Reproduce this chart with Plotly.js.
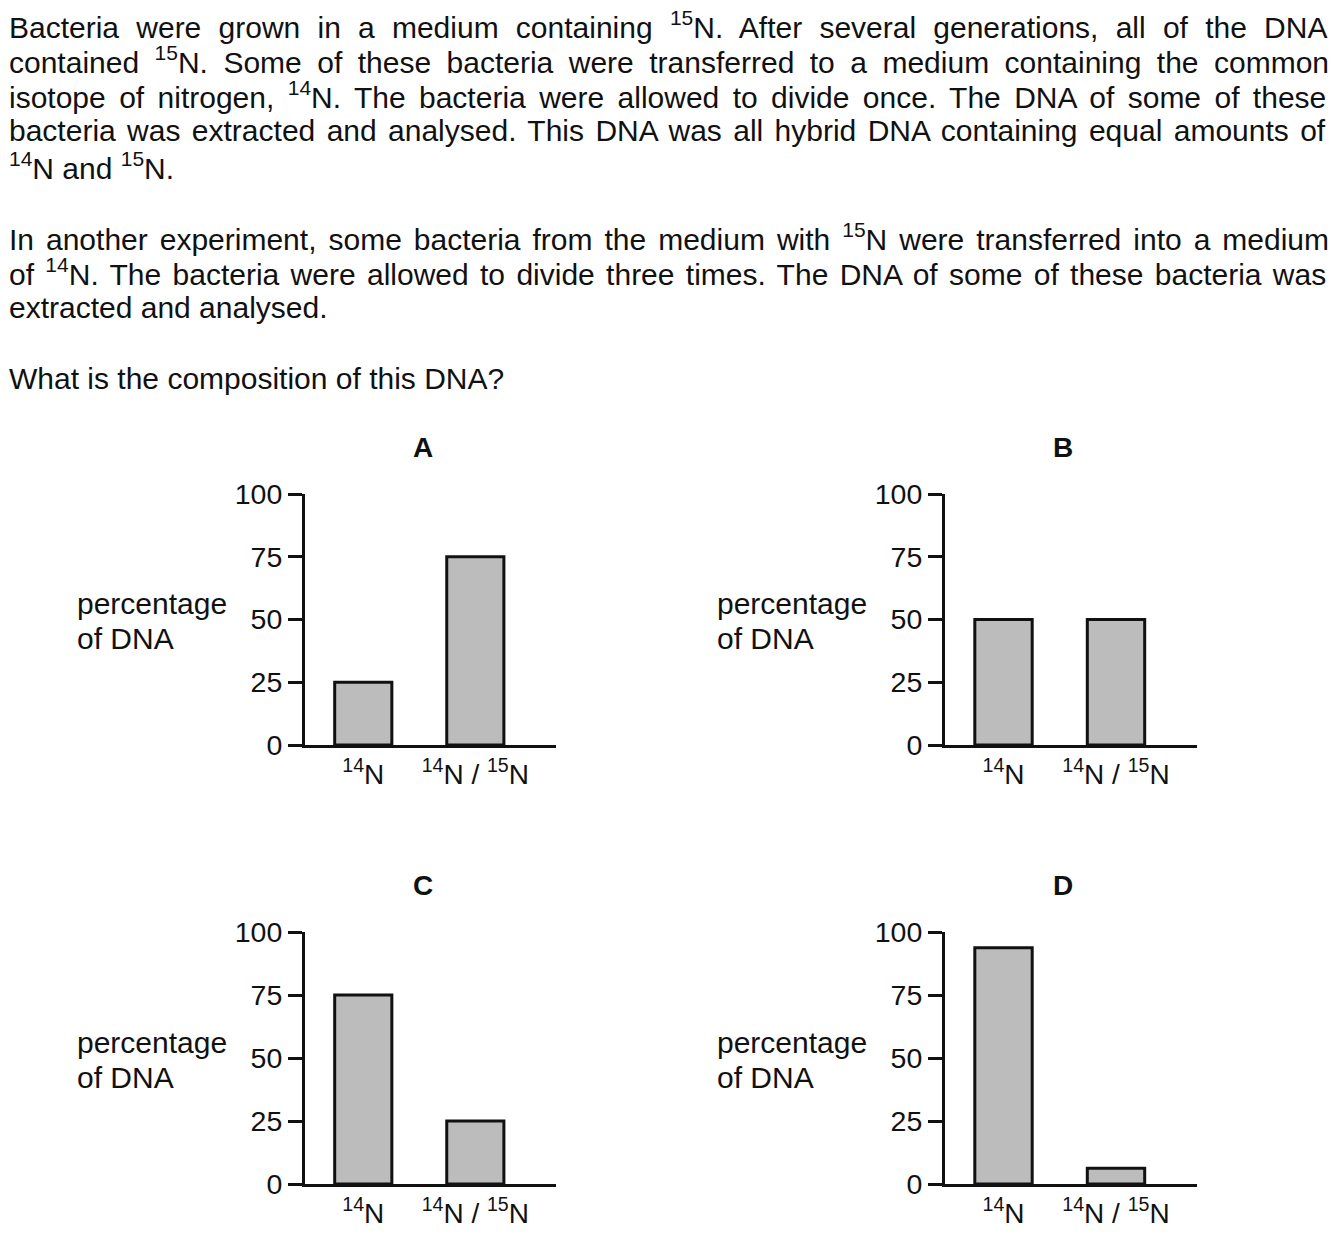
<!DOCTYPE html>
<html>
<head>
<meta charset="utf-8">
<script src="https://cdn.plot.ly/plotly-3.0.1.min.js"></script>
<style>
html,body{margin:0;padding:0;background:#fff;}
#chart{width:1336px;height:1237px;}
</style>
</head>
<body>
<div id="chart"></div>
<script>
// ---------- data ----------
const categories = ['<sup>14</sup>N', '<sup>14</sup>N / <sup>15</sup>N'];
const valuesA = [25, 75];
const valuesB = [50, 50];
const valuesC = [75, 25];
const valuesD = [93.75, 6.25];
const yTickVals = [0, 25, 50, 75, 100];
const panelLabels = ['A', 'B', 'C', 'D'];
const yAxisLabelLines = ['percentage', 'of DNA'];

const paragraphLines = [
  {text: 'Bacteria were grown in a medium containing <sup>15</sup>N. After several generations, all of the DNA', justify: true},
  {text: 'contained <sup>15</sup>N. Some of these bacteria were transferred to a medium containing the common', justify: true},
  {text: 'isotope of nitrogen, <sup>14</sup>N. The bacteria were allowed to divide once. The DNA of some of these', justify: true},
  {text: 'bacteria was extracted and analysed. This DNA was all hybrid DNA containing equal amounts of', justify: true},
  {text: '<sup>14</sup>N and <sup>15</sup>N.', justify: false},
  {text: 'In another experiment, some bacteria from the medium with <sup>15</sup>N were transferred into a medium', justify: true},
  {text: 'of <sup>14</sup>N. The bacteria were allowed to divide three times. The DNA of some of these bacteria was', justify: true},
  {text: 'extracted and analysed.', justify: false},
  {text: 'What is the composition of this DNA?', justify: false}
];

// ---------- layout helpers ----------
const W = 1336, H = 1237;
const FONT = 'Liberation Sans, Arial, Helvetica, sans-serif';
const INK = '#111111';
const BODY_SIZE = 30;
const px = x => x / W;
const py = y => 1 - y / H;

const lineY = [25, 60, 95, 131, 166, 237, 272, 307, 378];
const textLeft = 7, textRight = 1327;

// measure text width (with <sup> segments at 70%)
const cv = document.createElement('canvas').getContext('2d');
function segs(str) {
  const out = [];
  const re = /<sup>(.*?)<\/sup>/g;
  let last = 0, m;
  while ((m = re.exec(str)) !== null) {
    if (m.index > last) out.push({t: str.slice(last, m.index), sup: false});
    out.push({t: m[1], sup: true});
    last = re.lastIndex;
  }
  if (last < str.length) out.push({t: str.slice(last), sup: false});
  return out;
}
function measure(str, size) {
  let w = 0;
  for (const s of segs(str)) {
    cv.font = (s.sup ? size * 0.7 : size) + 'px ' + FONT;
    w += cv.measureText(s.t).width;
  }
  return w;
}
function justified(str, size, target) {
  const natural = measure(str, size);
  const spaces = (str.replace(/<[^>]+>/g, '').match(/ /g) || []).length;
  const extra = spaces ? (target - natural) / spaces : 0;
  return segs(str).map(s => s.sup ? '<sup>' + s.t + '</sup>'
    : '<span style="word-spacing:' + extra.toFixed(2) + 'px">' + s.t + '</span>').join('');
}

const annotations = [];
paragraphLines.forEach((ln, i) => {
  annotations.push({
    xref: 'paper', yref: 'paper', x: px(textLeft), y: py(lineY[i]),
    xanchor: 'left', yanchor: 'middle', showarrow: false, align: 'left',
    text: ln.justify ? justified(ln.text, BODY_SIZE, textRight - textLeft) : ln.text,
    font: {family: FONT, size: BODY_SIZE, color: INK}
  });
});

// ---------- panels ----------
const panels = [
  {vals: valuesA, x0: 305, x1: 556, yTop: 494, yBot: 745, titleX: 423, titleY: 447, labX: 75},
  {vals: valuesB, x0: 945, x1: 1197, yTop: 494, yBot: 745, titleX: 1063, titleY: 447, labX: 715},
  {vals: valuesC, x0: 305, x1: 556, yTop: 932, yBot: 1184, titleX: 423, titleY: 885, labX: 75},
  {vals: valuesD, x0: 945, x1: 1197, yTop: 932, yBot: 1184, titleX: 1063, titleY: 885, labX: 715}
];

const data = [];
const layout = {
  width: W, height: H,
  margin: {l: 0, r: 0, t: 0, b: 0},
  paper_bgcolor: '#fff', plot_bgcolor: '#fff',
  showlegend: false,
  font: {family: FONT, color: INK},
  annotations: annotations
};

panels.forEach((p, i) => {
  const n = i === 0 ? '' : String(i + 1);
  data.push({
    type: 'bar', x: categories, y: p.vals,
    xaxis: 'x' + n, yaxis: 'y' + n, width: 0.51,
    marker: {color: '#bcbcbc', line: {color: INK, width: 3}},
    hoverinfo: 'skip'
  });
  layout['xaxis' + n] = {
    domain: [px(p.x0), px(p.x1)], anchor: 'y' + n,
    type: 'category', range: [-0.52, 1.72],
    showline: true, linewidth: 3, linecolor: INK,
    ticks: '', showgrid: false, zeroline: false,
    tickfont: {family: FONT, size: 28, color: INK},
    ticklabelstandoff: 2, fixedrange: true
  };
  layout['yaxis' + n] = {
    domain: [py(p.yBot), py(p.yTop)], anchor: 'x' + n,
    range: [0, 100], tickvals: yTickVals,
    showline: true, linewidth: 3, linecolor: INK,
    ticks: 'outside', ticklen: 14, tickwidth: 3, tickcolor: INK,
    showgrid: false, zeroline: false,
    tickfont: {family: FONT, size: 28.5, color: INK},
    ticklabelstandoff: 0, fixedrange: true
  };
  annotations.push({
    xref: 'paper', yref: 'paper', x: px(p.titleX), y: py(p.titleY),
    xanchor: 'center', yanchor: 'middle', showarrow: false,
    text: '<b>' + panelLabels[i] + '</b>',
    font: {family: FONT, size: 28, color: INK}
  });
  const mid = (p.yTop + p.yBot) / 2;
  yAxisLabelLines.forEach((t, k) => {
    annotations.push({
      xref: 'paper', yref: 'paper', x: px(p.labX), y: py(mid - 16 + k * 35),
      xanchor: 'left', yanchor: 'middle', showarrow: false, align: 'left',
      text: t,
      font: {family: FONT, size: 30, color: INK}
    });
  });
});

Plotly.newPlot('chart', data, layout, {displayModeBar: false, staticPlot: true});
</script>
</body>
</html>
